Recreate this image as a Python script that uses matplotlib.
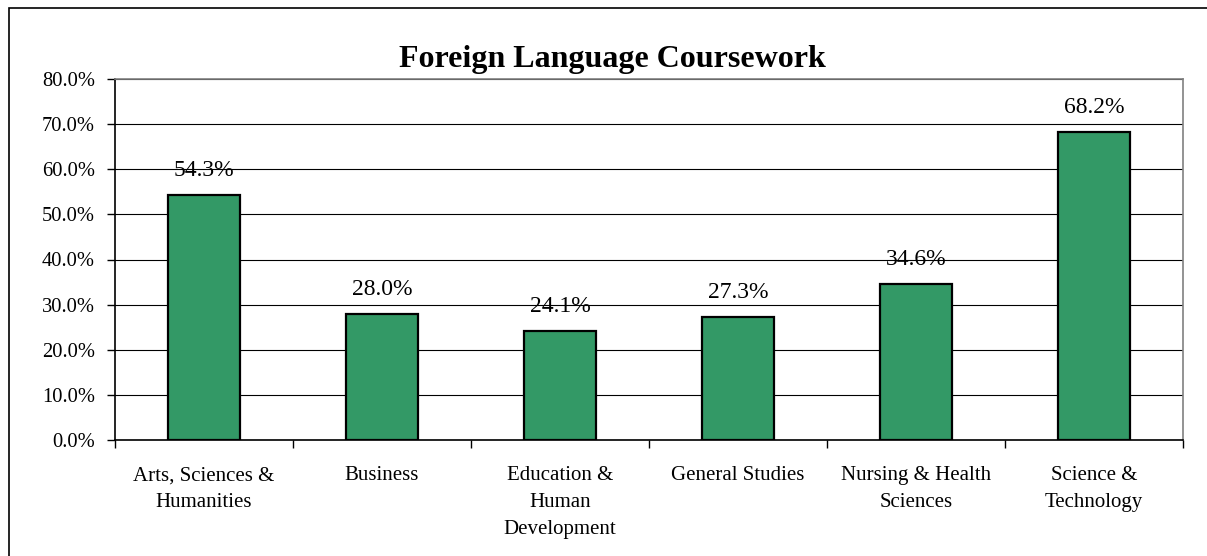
import matplotlib
matplotlib.use("Agg")
import matplotlib.pyplot as plt
from matplotlib.patches import Rectangle
from matplotlib.ticker import FixedLocator, FuncFormatter

categories = [
    "Arts, Sciences &\nHumanities",
    "Business",
    "Education &\nHuman\nDevelopment",
    "General Studies",
    "Nursing & Health\nSciences",
    "Science &\nTechnology",
]
values = [54.3, 28.0, 24.1, 27.3, 34.6, 68.2]
y_ticks = [0, 10, 20, 30, 40, 50, 60, 70, 80]

plt.rcParams["font.family"] = ["Liberation Serif", "DejaVu Serif"]

fig = plt.figure(figsize=(12.07, 5.56), dpi=100)
ax = fig.add_axes([115 / 1207, 1 - 440 / 556, (1183 - 115) / 1207, (440 - 79) / 556])

# outer chart frame
fig.patches.append(Rectangle((9 / 1207, -0.1), 1.2, 1 - 8 / 556 + 0.1,
                             transform=fig.transFigure, fill=False,
                             edgecolor="black", linewidth=1.2))

x = range(len(categories))
bars = ax.bar(x, values, width=0.405, color="#339966", edgecolor="black",
              linewidth=1.6, zorder=3)

for rect, v in zip(bars, values):
    ax.annotate(f"{v:.1f}%", (rect.get_x() + rect.get_width() / 2, v),
                xytext=(0, 10), textcoords="offset points",
                ha="center", va="bottom", fontsize=17)

ax.set_xlim(-0.5, len(categories) - 0.5)
ax.set_ylim(0, 80)
ax.yaxis.set_major_locator(FixedLocator(y_ticks))
ax.yaxis.set_major_formatter(FuncFormatter(lambda v, _: f"{v:.1f}%"))
ax.grid(axis="y", color="black", linewidth=0.8, zorder=0)
ax.set_axisbelow(True)

ax.set_xticks(list(x))
ax.set_xticklabels(categories, fontsize=15, linespacing=1.55, va="top")
ax.set_xticks([i - 0.5 for i in range(len(categories) + 1)], minor=True)
ax.tick_params(axis="x", which="major", length=0, pad=19)
ax.tick_params(axis="x", which="minor", length=6, width=1, direction="out")
ax.tick_params(axis="y", length=6, width=1, direction="out", labelsize=14.8, pad=8.5)

for side in ("top", "right"):
    ax.spines[side].set_color("#808080")
    ax.spines[side].set_linewidth(1.2)
for side in ("left", "bottom"):
    ax.spines[side].set_color("black")
    ax.spines[side].set_linewidth(1.2)

fig.text(612 / 1207, 1 - 60 / 556, "Foreign Language Coursework",
         ha="center", va="center", fontsize=23, fontweight="bold")

fig.savefig("out.png", dpi=100)
plt.close(fig)
